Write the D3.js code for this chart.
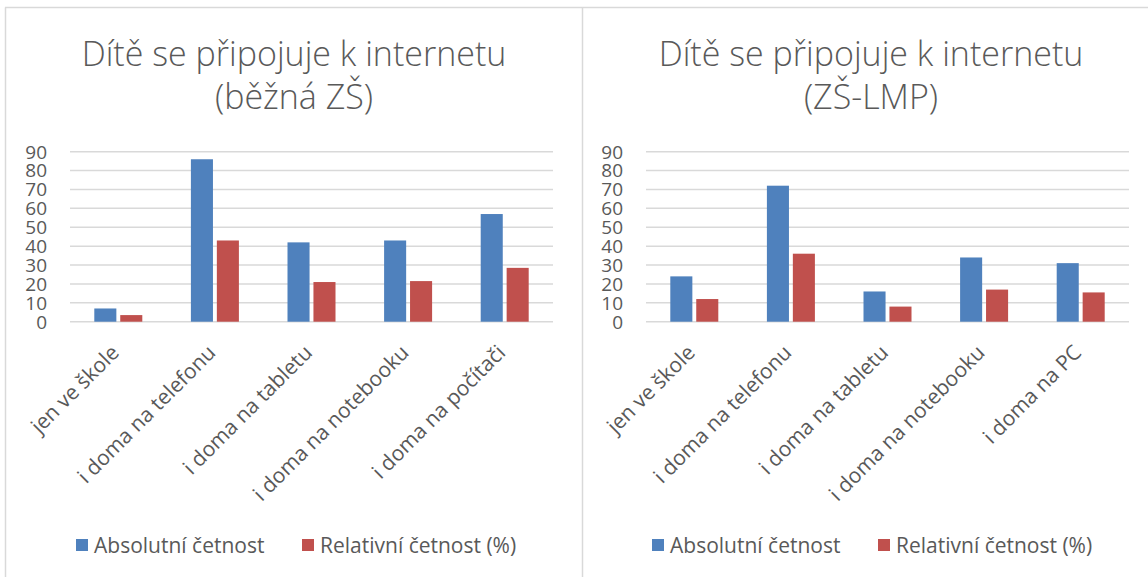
<!DOCTYPE html>
<html>
<head>
<meta charset="utf-8">
<script src="https://d3js.org/d3.v7.min.js"></script>
<style>
  body { margin: 0; background: #fff; }
  svg text { font-family: "Open Sans", "DejaVu Sans", sans-serif; fill: #595959; }
</style>
</head>
<body>
<svg id="chart" width="1148" height="577"></svg>
<script>
// data
const categoriesLeft = ["jen ve škole", "i doma na telefonu", "i doma na tabletu", "i doma na notebooku", "i doma na počítači"];
const categoriesRight = ["jen ve škole", "i doma na telefonu", "i doma na tabletu", "i doma na notebooku", "i doma na PC"];
const absLeft = [7, 86, 42, 43, 57];
const relLeft = [3.5, 43, 21, 21.5, 28.5];
const absRight = [24, 72, 16, 34, 31];
const relRight = [12, 36, 8, 17, 15.5];
const seriesNames = ["Absolutní četnost", "Relativní četnost (%)"];
const seriesColors = ["#4f81bd", "#c0504d"];
const yTicks = [0, 10, 20, 30, 40, 50, 60, 70, 80, 90];
const titles = [["Dítě se připojuje k internetu", "(běžná ZŠ)"], ["Dítě se připojuje k internetu", "(ZŠ-LMP)"]];

const svg = d3.select("#chart");

// frame
svg.append("line").attr("x1", 5.5).attr("x2", 5.5).attr("y1", 7.5).attr("y2", 577)
   .attr("stroke", "#d9d9d9").attr("stroke-width", 1.5);
svg.append("line").attr("x1", 5).attr("x2", 1148).attr("y1", 7.5).attr("y2", 7.5)
   .attr("stroke", "#d9d9d9").attr("stroke-width", 1.5);
svg.append("line").attr("x1", 582.5).attr("x2", 582.5).attr("y1", 7.5).attr("y2", 577)
   .attr("stroke", "#d9d9d9").attr("stroke-width", 1.5);

function drawPanel(opts) {
  const g = svg.append("g");
  const x = d3.scaleBand().domain(opts.cats).range([opts.left, opts.right]);
  const y = d3.scaleLinear().domain([0, 90]).range([321.7, 151.7]);
  const inner = d3.scaleBand().domain([0, 1]).range([-24, 24]).paddingInner(0.15);

  // title
  g.append("text").attr("x", opts.titleX).attr("y", 66)
    .attr("text-anchor", "middle").attr("font-size", 34).attr("font-weight", 300)
    .text(opts.title[0]);
  g.append("text").attr("x", opts.titleX).attr("y", 109)
    .attr("text-anchor", "middle").attr("font-size", 34).attr("font-weight", 300)
    .text(opts.title[1]);

  // gridlines
  g.selectAll(".grid").data(yTicks).enter().append("line")
    .attr("x1", opts.left).attr("x2", opts.right)
    .attr("y1", d => y(d)).attr("y2", d => y(d))
    .attr("stroke", "#d9d9d9").attr("stroke-width", 1.5);

  // y labels
  g.selectAll(".ylab").data(yTicks).enter().append("text")
    .attr("x", opts.left - 23).attr("y", d => y(d))
    .attr("dy", "0.36em").attr("text-anchor", "end").attr("font-size", 19)
    .text(d => d);

  // bars
  const series = [opts.abs, opts.rel];
  series.forEach((vals, si) => {
    g.selectAll(".bar" + si).data(vals).enter().append("rect")
      .attr("x", (d, i) => x(opts.cats[i]) + x.bandwidth() / 2 + inner(si))
      .attr("width", inner.bandwidth())
      .attr("y", d => y(d))
      .attr("height", d => y(0) - y(d))
      .attr("fill", seriesColors[si]);
  });

  // x labels
  g.selectAll(".xlab").data(opts.cats).enter().append("text")
    .attr("transform", d => `translate(${x(d) + x.bandwidth() / 2 + 2},${354}) rotate(-45)`)
    .attr("text-anchor", "end").attr("font-size", 21)
    .text(d => d);

  // legend
  seriesNames.forEach((name, si) => {
    const lx = opts.legendX[si];
    g.append("rect").attr("x", lx).attr("y", 539).attr("width", 12).attr("height", 12)
      .attr("fill", seriesColors[si]);
    g.append("text").attr("x", lx + 18).attr("y", 545).attr("dy", "0.36em")
      .attr("font-size", 21).text(name);
  });
}

drawPanel({ cats: categoriesLeft, abs: absLeft, rel: relLeft, left: 70, right: 553,
            titleX: 294, title: titles[0], legendX: [76, 302] });
drawPanel({ cats: categoriesRight, abs: absRight, rel: relRight, left: 646, right: 1129,
            titleX: 871, title: titles[1], legendX: [652, 878] });
</script>
</body>
</html>
